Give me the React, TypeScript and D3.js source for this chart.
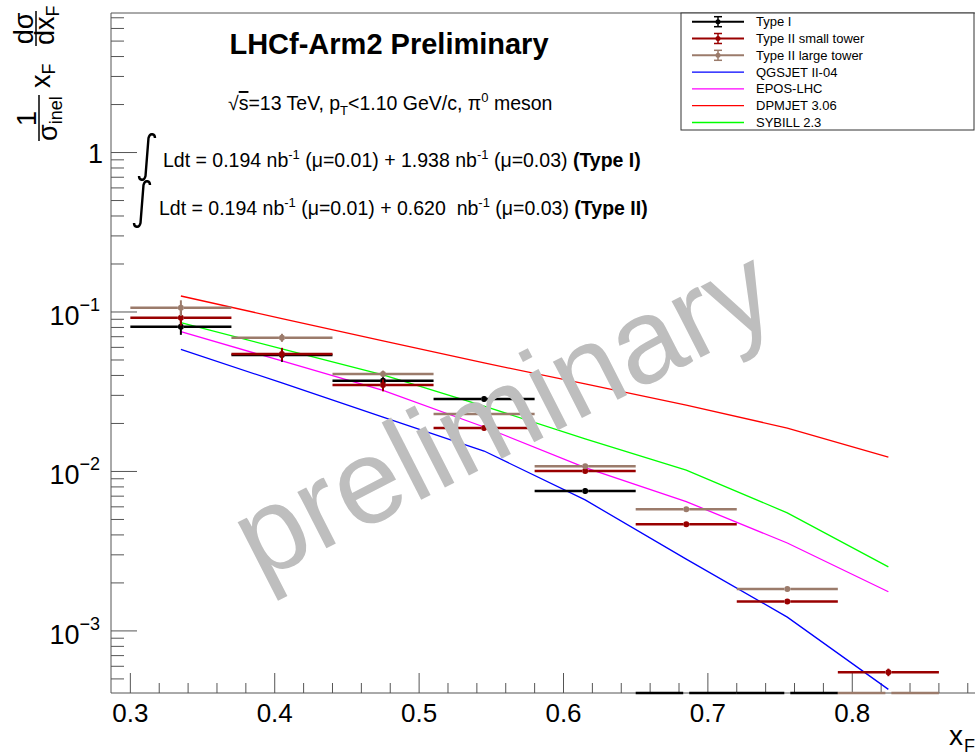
import React from 'react';
import * as d3 from 'd3';

// x_F bins
const binLow = [0.30, 0.37, 0.44, 0.51, 0.58, 0.65, 0.72, 0.79];
const binHigh = [0.37, 0.44, 0.51, 0.58, 0.65, 0.72, 0.79, 0.86];
const binCenter = [0.335, 0.405, 0.475, 0.545, 0.615, 0.685, 0.755, 0.825];

// measured spectra, 0 means below the drawn range
const typeI = [0.0809, 0.0537, 0.0371, 0.0285, 0.00755, 0, 0];
const typeIErr = [0.009, 0.005, 0.0025, 0.001, 0.0003, 0, 0];
const typeIISmall = [0.0921, 0.0546, 0.0348, 0.0187, 0.01008, 0.00467, 0.00153, 0.00055];
const typeIISmallErr = [0.01, 0.005, 0.003, 0.0006, 0.0003, 0.00015, 0.00005, 0.00003];
const typeIILarge = [0.1064, 0.069, 0.0409, 0.0229, 0.0108, 0.0058, 0.00183, 0];
const typeIILargeErr = [0.012, 0.004, 0.002, 0.0007, 0.0003, 0.00015, 0.00006, 0];

// model predictions at the bin centres
const qgsjet = [0.0583, 0.0359, 0.0219, 0.01343, 0.00663, 0.00282, 0.00122, 0.00043];
const epos = [0.0752, 0.0493, 0.0322, 0.019, 0.01058, 0.00647, 0.00356, 0.00176];
const dpmjet = [0.126, 0.091, 0.0658, 0.0479, 0.0354, 0.0261, 0.0187, 0.0123];
const sybill = [0.0857, 0.0588, 0.0403, 0.0257, 0.016, 0.0102, 0.0055, 0.00252];

const xTickLabels = ['0.3', '0.4', '0.5', '0.6', '0.7', '0.8'];
const yTickExps = [0, -1, -2, -3];

const FONT = 'Liberation Sans, Arial, Helvetica, sans-serif';
const AXIS = '#555';

const W = 975;
const H = 753;
const yMin = 4.08e-4;

const dataSeries = [
  { name: 'Type I', color: '#000000', values: typeI, errors: typeIErr },
  { name: 'Type II small tower', color: '#990000', values: typeIISmall, errors: typeIISmallErr },
  { name: 'Type II large tower', color: '#9b7b6b', values: typeIILarge, errors: typeIILargeErr },
];

const modelSeries = [
  { name: 'QGSJET II-04', color: '#0000ff', values: qgsjet },
  { name: 'EPOS-LHC', color: '#ff00ff', values: epos },
  { name: 'DPMJET 3.06', color: '#ff0000', values: dpmjet },
  { name: 'SYBILL 2.3', color: '#00ff00', values: sybill },
];

// integral sign drawn as a stroke
function integralPath(x: number, top: number, h: number) {
  return `M${x + 16},${top + 5} C${x + 16},${top + 1} ${x + 11},${top - 1} ${x + 9.5},${top + 5}` +
    ` L${x + 6.5},${top + h - 5} C${x + 5},${top + h + 1} ${x},${top + h - 1} ${x},${top + h - 5}`;
}

export default function App() {
  const x = d3.scaleLinear().domain([0.2866, 0.885]).range([111, 975]);
  const y = d3.scaleLog().domain([yMin, 7.5]).range([693, 13]);
  const yc = (v: number) => y(Math.max(v, yMin));

  const line = d3.line<number>()
    .x((_, i) => x(binCenter[i]))
    .y(v => yc(v));

  const xMinor = d3.range(0, 30).map(i => 0.3 + i * 0.02).filter(v => v < 0.885);
  const yMinor = y.ticks().filter(v => Math.abs(Math.log10(v) - Math.round(Math.log10(v))) > 1e-6);

  const gap = 3;

  return (
    <svg width={W} height={H} style={{ position: 'absolute', left: 0, top: 0, background: '#fff' }} fontFamily={FONT}>
      <rect width={W} height={H} fill="#fff" />

      {/* frame */}
      <line x1={111} x2={W} y1={13} y2={13} stroke={AXIS} strokeWidth={1} />
      <line x1={111} x2={111} y1={13} y2={693} stroke={AXIS} strokeWidth={1} />
      <line x1={111} x2={W} y1={693} y2={693} stroke={AXIS} strokeWidth={1} />

      {/* x ticks */}
      {xMinor.map(v => {
        const major = Math.abs(v * 10 - Math.round(v * 10)) < 1e-6;
        return <line key={'xt' + v} x1={x(v)} x2={x(v)} y1={693} y2={693 - (major ? 20 : 10)} stroke={AXIS} strokeWidth={1} />;
      })}
      {xTickLabels.map(t => (
        <text key={'xl' + t} x={x(+t)} y={722} fontSize={26} textAnchor="middle" fill="#000">{t}</text>
      ))}

      {/* y ticks */}
      {yMinor.map(v => (
        <line key={'ym' + v} x1={111} x2={124} y1={y(v)} y2={y(v)} stroke={AXIS} strokeWidth={1} />
      ))}
      {yTickExps.map(e => (
        <g key={'ye' + e}>
          <line x1={111} x2={137} y1={y(Math.pow(10, e))} y2={y(Math.pow(10, e))} stroke={AXIS} strokeWidth={1} />
          {e === 0 ? (
            <text x={103} y={y(1) + 10} fontSize={27} textAnchor="end">1</text>
          ) : (
            <text x={100} y={y(Math.pow(10, e)) + 13} fontSize={27} textAnchor="end">
              10<tspan fontSize={18} dy={-14}>{'\u2212' + -e}</tspan>
            </text>
          )}
        </g>
      ))}

      {/* axis titles */}
      <text x={949} y={745} fontSize={28}>x</text>
      <text x={964} y={752} fontSize={18}>F</text>

      <text transform="translate(36,118.5) rotate(-90)" fontSize={27} textAnchor="middle">1</text>
      <line x1={39} x2={39} y1={95} y2={141} stroke="#000" strokeWidth={1.5} />
      <text transform="translate(57,141) rotate(-90)" fontSize={27}>σ<tspan fontSize={18} dy={5}>inel</tspan></text>
      <text transform="translate(50,88) rotate(-90)" fontSize={27}>x<tspan fontSize={18} dy={5}>F</tspan></text>
      <text transform="translate(33,28.5) rotate(-90)" fontSize={27} textAnchor="middle">dσ</text>
      <line x1={36} x2={36} y1={11} y2={46} stroke="#000" strokeWidth={1.5} />
      <text transform="translate(54,45) rotate(-90)" fontSize={27}>dx<tspan fontSize={18} dy={5}>F</tspan></text>

      {/* models */}
      {modelSeries.map(s => (
        <path key={s.name} d={line(s.values) || ''} fill="none" stroke={s.color} strokeWidth={1.3} />
      ))}

      {/* data */}
      {dataSeries.map(s => (
        <g key={s.name}>
          {s.values.map((v, i) => {
            const cx = x(binCenter[i]);
            const cy = yc(v);
            const inRange = v >= yMin;
            return (
              <g key={i}>
                <line x1={x(binLow[i])} x2={cx - gap} y1={cy} y2={cy} stroke={s.color} strokeWidth={2.5} />
                <line x1={cx + gap} x2={x(binHigh[i])} y1={cy} y2={cy} stroke={s.color} strokeWidth={2.5} />
                {inRange && (
                  <>
                    <line x1={cx} x2={cx} y1={yc(v + s.errors[i])} y2={yc(v - s.errors[i])} stroke={s.color} strokeWidth={2} />
                    <circle cx={cx} cy={cy} r={3} fill={s.color} />
                  </>
                )}
              </g>
            );
          })}
        </g>
      ))}

      {/* texts */}
      <text x={389} y={54} fontSize={29} fontWeight="bold" textAnchor="middle">LHCf-Arm2 Preliminary</text>
      <text x={228} y={110} fontSize={19.5}>
        √<tspan textDecoration="overline">s</tspan>=13 TeV, p<tspan fontSize={13} dy={5}>T</tspan>
        <tspan dy={-5}>{'<1.10 GeV/c, π'}</tspan><tspan fontSize={13} dy={-8}>0</tspan><tspan dy={8}> meson</tspan>
      </text>
      <path d={integralPath(139, 133, 48)} fill="none" stroke="#000" strokeWidth={2.4} />
      <text x={163} y={167} fontSize={19.5} xmlSpace="preserve">
        Ldt = 0.194 nb<tspan fontSize={13} dy={-8}>-1</tspan><tspan dy={8}> (μ=0.01) + 1.938 nb</tspan>
        <tspan fontSize={13} dy={-8}>-1</tspan><tspan dy={8}> (μ=0.03) </tspan><tspan fontWeight="bold">(Type I)</tspan>
      </text>
      <path d={integralPath(134, 180, 48)} fill="none" stroke="#000" strokeWidth={2.4} />
      <text x={159} y={215} fontSize={19.5} xmlSpace="preserve">
        Ldt = 0.194 nb<tspan fontSize={13} dy={-8}>-1</tspan><tspan dy={8}> (μ=0.01) + 0.620{'\u00a0'} nb</tspan>
        <tspan fontSize={13} dy={-8}>-1</tspan><tspan dy={8}> (μ=0.03) </tspan><tspan fontWeight="bold">(Type II)</tspan>
      </text>

      {/* legend */}
      <rect x={681} y={13} width={293} height={117} fill="#fff" stroke="#333" strokeWidth={1} />
      {[...dataSeries, ...modelSeries].map((s, i) => {
        const ly = 21.7 + i * 16.8;
        const isData = i < dataSeries.length;
        return (
          <g key={'lg' + s.name}>
            <line x1={692} x2={744} y1={ly} y2={ly} stroke={s.color} strokeWidth={isData ? 2 : 1.3} />
            {isData && (
              <>
                <line x1={718} x2={718} y1={ly - 5} y2={ly + 5} stroke={s.color} strokeWidth={1.5} />
                <line x1={714} x2={722} y1={ly - 5} y2={ly - 5} stroke={s.color} strokeWidth={1.5} />
                <line x1={714} x2={722} y1={ly + 5} y2={ly + 5} stroke={s.color} strokeWidth={1.5} />
                <circle cx={718} cy={ly} r={2.5} fill={s.color} />
              </>
            )}
            <text x={756} y={ly + 4.5} fontSize={13}>{s.name}</text>
          </g>
        );
      })}

      {/* watermark */}
      <text transform="translate(521,449) rotate(-27)" fontSize={120} fill="#bebebe" textAnchor="middle">preliminary</text>
    </svg>
  );
}
